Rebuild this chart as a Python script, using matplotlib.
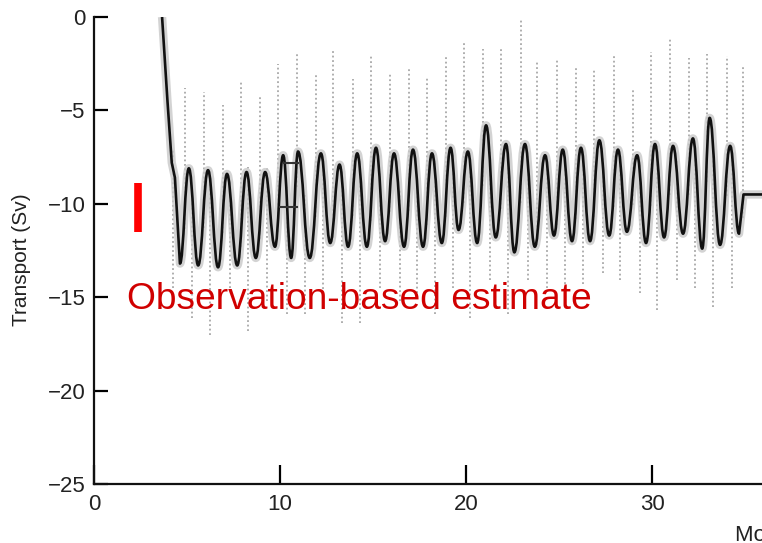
import numpy as np
import matplotlib
matplotlib.use("Agg")
import matplotlib.pyplot as plt
from matplotlib.path import Path
from matplotlib.patches import PathPatch

# ---- data ----
# model transport (black line): x in model years, y in Sv
black_x = [3.66, 3.95, 4.18, 4.35, 4.62,
           5.10, 5.60, 6.13, 6.67, 7.15, 7.70, 8.20, 8.70, 9.20, 9.73,
           10.17, 10.60, 10.97, 11.60, 12.20, 12.70, 13.20, 13.66, 14.15, 14.67,
           15.16, 15.65, 16.13, 16.67, 17.15, 17.69, 18.17, 18.70, 19.17, 19.60,
           20.10, 20.60, 21.08, 21.60, 22.15, 22.60, 23.17, 23.70, 24.25, 24.73,
           25.20, 25.70, 26.18, 26.67, 27.17, 27.70, 28.17, 28.65, 29.20, 29.68,
           30.16, 30.65, 31.13, 31.67, 32.20, 32.70, 33.10, 33.66, 34.20, 34.68,
           34.92, 36.50]
black_y = [0.0, -4.5, -7.8, -8.6, -13.2,
           -8.1, -13.3, -8.2, -13.4, -8.4, -13.3, -8.3, -12.9, -8.3, -12.3,
           -7.4, -12.9, -7.2, -12.9, -7.3, -12.1, -7.9, -12.3, -7.3, -12.3,
           -7.0, -12.0, -7.3, -12.3, -7.1, -12.3, -7.3, -12.1, -7.0, -11.4,
           -7.2, -12.1, -5.8, -11.8, -6.8, -12.6, -6.8, -12.3, -7.4, -11.7,
           -7.1, -12.0, -7.0, -12.0, -6.6, -11.7, -7.1, -11.5, -7.4, -12.1,
           -6.8, -11.8, -6.9, -11.6, -6.5, -12.4, -5.4, -12.2, -6.9, -11.6,
           -9.5, -9.5]
# first and last index of the oscillating (peak/trough) part of the line
osc_start, osc_end = 4, 64

# extra black segments around year 10-11
seg_upper_x = [10.20, 10.97]
seg_upper_y = [-7.8, -7.8]
seg_lower_x = [10.00, 10.90]
seg_lower_y = [-10.15, -10.15]

# high-frequency transport (grey dotted): tops and bottoms of the spikes
gray_top_x = [4.89, 5.91, 6.94, 7.90, 8.92, 9.89, 10.91, 11.94, 12.85, 13.92,
              14.89, 15.91, 16.94, 17.90, 18.92, 19.89, 20.91, 21.88, 22.96, 23.82,
              24.89, 25.91, 26.88, 27.96, 28.98, 29.95, 30.97, 31.99, 32.96, 34.03, 34.89]
gray_top_y = [-3.8, -4.0, -4.7, -3.5, -4.3, -2.5, -1.9, -3.0, -1.7, -3.3,
              -2.0, -3.0, -2.8, -3.2, -2.1, -1.4, -1.7, -1.7, -0.1, -2.3,
              -2.3, -2.7, -2.8, -2.0, -3.9, -1.9, -1.1, -2.2, -2.0, -2.1, -2.7]
gray_bot_x = [4.25, 5.27, 6.24, 7.31, 8.28, 9.30, 10.38, 11.34, 12.31, 13.33,
              14.30, 15.38, 16.45, 17.37, 18.33, 19.30, 20.22, 21.29, 22.26, 23.33,
              24.35, 25.32, 26.29, 27.37, 28.28, 29.35, 30.27, 31.34, 32.31, 33.28, 34.30]
gray_bot_y = [-14.5, -16.1, -17.0, -14.5, -16.8, -15.2, -15.9, -15.9, -15.5, -16.4,
              -16.4, -14.5, -15.2, -14.8, -15.9, -14.5, -16.1, -14.1, -15.9, -14.1,
              -14.5, -14.8, -14.3, -13.7, -14.1, -14.8, -15.7, -14.1, -14.5, -15.5, -14.5]

# observation-based estimate (red bar)
obs_x = 2.39
obs_range = [-8.9, -11.5]
obs_label = "Observation-based estimate"

xticks = [0, 10, 20, 30]
yticks = [0, -5, -10, -15, -20, -25]
yticklabels = ["0", "\u22125", "\u221210", "\u221215", "\u221220", "\u221225"]
ylabel = "Transport (Sv)"
xlabel = "Model years"

FONT = ["Liberation Sans", "DejaVu Sans"]

# ---- figure ----
W, H = 762, 543
fig = plt.figure(figsize=(W / 100, H / 100), dpi=100)
ax = fig.add_axes([94 / W, 59 / H, (W - 94) / W, (484 - 17) / H])
ax.set_xlim(0, (W - 94) / 18.6)
ax.set_ylim(-25, 0)

bx = np.array(black_x)
by = np.array(black_y)

# grey high-frequency spikes
base_top = np.interp(gray_top_x, bx, by)
base_bot = np.interp(gray_bot_x, bx, by)
ax.vlines(gray_top_x, base_top - 1.0, gray_top_y, colors="#a8a8a8",
          linestyles=(0, (1, 1.5)), linewidth=1.3, zorder=1)
ax.vlines(gray_bot_x, gray_bot_y, base_bot + 1.0, colors="#a8a8a8",
          linestyles=(0, (1, 1.5)), linewidth=1.3, zorder=1)

# build the model line path: straight start/end, smooth (horizontal tangents) between extrema
verts = [(bx[0], by[0])]
codes = [Path.MOVETO]
for i in range(1, osc_start + 1):
    verts.append((bx[i], by[i])); codes.append(Path.LINETO)
for i in range(osc_start, osc_end):
    x0, y0, x1, y1 = bx[i], by[i], bx[i + 1], by[i + 1]
    dx = x1 - x0
    verts += [(x0 + 0.42 * dx, y0), (x1 - 0.42 * dx, y1), (x1, y1)]
    codes += [Path.CURVE4] * 3
for i in range(osc_end + 1, len(bx)):
    verts.append((bx[i], by[i])); codes.append(Path.LINETO)
path = Path(verts, codes)

ax.add_patch(PathPatch(path, facecolor="none", edgecolor="#c8c8c8", lw=6.0,
                       alpha=0.8, zorder=2, joinstyle="round"))
ax.add_patch(PathPatch(path, facecolor="none", edgecolor="#111111", lw=1.9,
                       zorder=3, joinstyle="round"))
ax.plot(seg_upper_x, seg_upper_y, color="#333333", lw=1.5, zorder=3)
ax.plot(seg_lower_x, seg_lower_y, color="#333333", lw=1.5, zorder=3)

# observation bar and label
ax.plot([obs_x, obs_x], obs_range, color="#ff0000", lw=5.5, solid_capstyle="butt", zorder=4)
ax.text(1.77, -15.63, obs_label, color="#d00000", fontsize=26.7,
        family="Liberation Sans", ha="left", va="baseline", zorder=5)

# axes styling
for s in ["top", "right"]:
    ax.spines[s].set_visible(False)
for s in ["left", "bottom"]:
    ax.spines[s].set_linewidth(1.6)
    ax.spines[s].set_color("#111111")
ax.set_xticks(xticks)
ax.set_yticks(yticks)
ax.set_yticklabels(yticklabels)
ax.tick_params(axis="x", direction="in", length=14, width=1.6, pad=7,
               labelsize=16, labelcolor="#222222")
ax.tick_params(axis="y", direction="in", length=10, width=1.6, pad=6,
               labelsize=16, labelcolor="#222222")
for lab in ax.get_xticklabels() + ax.get_yticklabels():
    lab.set_family(FONT)

fig.text(22 / W, 1 - 260 / H, ylabel, rotation=90, ha="center", va="center",
         fontsize=15, family=FONT, color="#222222")
fig.text(735 / W, 1 - 536 / H, xlabel, ha="left", va="center",
         fontsize=16, family=FONT, color="#222222")

fig.savefig("out.png", dpi=100)
